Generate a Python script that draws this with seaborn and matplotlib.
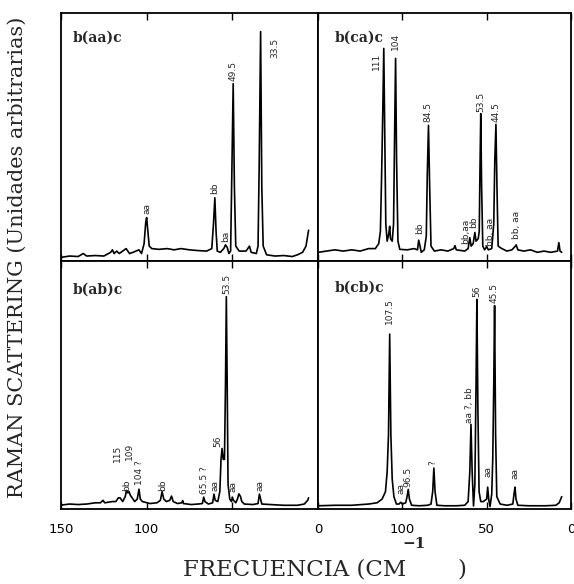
import numpy as np
import pandas as pd
import matplotlib
matplotlib.use("Agg")
import matplotlib.pyplot as plt
import seaborn as sns

# ---------------- data ----------------
# b(aa)c  (top-left)
aa_freq = [149.6, 145, 140, 137, 135, 130, 125, 121, 120, 119, 117.5, 116, 112, 110, 108, 104.5, 103,
           101.5, 100.5, 100, 99.3, 98.5, 97, 93, 88, 84, 80, 75, 70, 65, 62, 61, 60.2, 59.5, 58.8,
           57, 55, 54, 53, 52, 51, 50.3, 49.5, 48.8, 48, 46, 42, 40, 39, 36, 35, 34.3, 33.5, 32.8,
           32, 30, 25, 20, 15, 12, 9, 7, 5.5]
aa_int = [0.015, 0.02, 0.018, 0.03, 0.02, 0.022, 0.02, 0.035, 0.045, 0.03, 0.04, 0.03, 0.05, 0.03, 0.035,
          0.045, 0.03, 0.07, 0.16, 0.175, 0.12, 0.06, 0.05, 0.047, 0.05, 0.045, 0.05, 0.045, 0.042,
          0.04, 0.05, 0.15, 0.255, 0.12, 0.04, 0.035, 0.05, 0.065, 0.055, 0.03, 0.04, 0.35, 0.715,
          0.3, 0.06, 0.04, 0.04, 0.06, 0.035, 0.03, 0.06, 0.4, 0.925, 0.3, 0.06, 0.025, 0.02, 0.022,
          0.018, 0.025, 0.035, 0.06, 0.124]
aa_lab_text = ["aa", "bb", "ba", "49.5", "33.5"]
aa_lab_freq = [100, 60.2, 54, 49.5, 25.5]
aa_lab_y = [0.19, 0.27, 0.078, 0.725, 0.82]

# b(ca)c  (top-right)
ca_freq = [149.8, 145, 140, 135, 130, 125, 120, 116, 114, 113, 112.3, 111.6, 111, 110.4, 109.8, 109,
           108, 107.5, 107, 106, 105.2, 104.6, 104, 103.4, 102.6, 101.5, 97, 93, 91, 90.3, 89.5, 88.8,
           87, 85.8, 85.2, 84.5, 83.8, 83, 81, 77, 73, 69.5, 68.8, 68, 63, 61, 60, 59.2, 58, 57, 56.3,
           55, 54.4, 54, 53.5, 53, 52.3, 51.2, 50, 49, 47, 45.8, 45.2, 44.5, 43.9, 43.2, 41, 38, 35,
           33, 32.5, 31.5, 28, 24, 20, 16, 12, 8, 7.2, 6.5, 5.5]
ca_int = [0.035, 0.04, 0.045, 0.04, 0.045, 0.04, 0.05, 0.05, 0.07, 0.12, 0.34, 0.6, 0.857, 0.5, 0.15,
          0.08, 0.11, 0.14, 0.09, 0.08, 0.15, 0.5, 0.817, 0.4, 0.08, 0.047, 0.045, 0.05, 0.045, 0.084,
          0.06, 0.035, 0.045, 0.1, 0.35, 0.547, 0.3, 0.06, 0.04, 0.045, 0.04, 0.05, 0.062, 0.045, 0.04,
          0.05, 0.094, 0.06, 0.07, 0.115, 0.08, 0.09, 0.12, 0.35, 0.594, 0.3, 0.06, 0.045, 0.058,
          0.045, 0.05, 0.15, 0.4, 0.551, 0.3, 0.06, 0.05, 0.04, 0.045, 0.06, 0.065, 0.045, 0.04,
          0.045, 0.035, 0.04, 0.035, 0.04, 0.074, 0.04, 0.035]
ca_lab_text = ["111", "104", "bb", "84.5", "bb,aa", "bb", "53.5", "bb, aa", "44.5", "bb, aa"]
ca_lab_freq = [115.2, 104, 89.5, 84.6, 62.5, 57.9, 53.5, 48.0, 44.5, 32.2]
ca_lab_y = [0.77, 0.85, 0.109, 0.56, 0.069, 0.134, 0.60, 0.06, 0.56, 0.089]

# b(ab)c  (bottom-left)
ab_freq = [149.6, 145, 140, 135, 130, 127, 125.5, 124.5, 120, 118, 116.5, 115.5, 114, 112.5, 111.8,
           111, 110.3, 109.5, 108.5, 107, 105.5, 104.5, 103.7, 102.5, 98, 94, 92, 91, 90, 88.5, 86.5,
           85.5, 84.5, 82, 79.5, 79, 78.5, 74, 70, 67.5, 66.7, 66, 64, 61.5, 60.7, 60, 58.5, 57.3,
           56.6, 56, 55.3, 54.6, 54, 53.5, 53, 52.5, 51.5, 50.5, 50, 49.3, 48, 47, 46.2, 45.2, 44.5,
           43, 38, 35, 34.2, 33.5, 32.8, 28, 20, 12, 8, 6, 5.5]
ab_int = [0.016, 0.02, 0.018, 0.02, 0.025, 0.025, 0.035, 0.025, 0.03, 0.03, 0.045, 0.045, 0.03, 0.05,
          0.075, 0.065, 0.07, 0.055, 0.045, 0.03, 0.04, 0.08, 0.04, 0.03, 0.022, 0.025, 0.035, 0.07,
          0.04, 0.03, 0.035, 0.052, 0.03, 0.022, 0.025, 0.034, 0.022, 0.018, 0.02, 0.022, 0.048, 0.03,
          0.02, 0.025, 0.06, 0.035, 0.03, 0.07, 0.2, 0.244, 0.2, 0.2, 0.5, 0.856, 0.5, 0.1, 0.04,
          0.03, 0.048, 0.035, 0.025, 0.04, 0.061, 0.05, 0.03, 0.02, 0.018, 0.022, 0.06, 0.04, 0.02,
          0.018, 0.015, 0.015, 0.02, 0.035, 0.045]
ab_lab_text = ["115", "bb", "109", "104 ?", "bb", "65.5 ?", "aa", "56", "53.5", "aa", "aa"]
ab_lab_freq = [117.1, 111.7, 110.1, 104.1, 90.9, 66.5, 60.2, 58.5, 53.3, 49.9, 33.8]
ab_lab_y = [0.19, 0.074, 0.196, 0.095, 0.074, 0.061, 0.074, 0.25, 0.867, 0.07, 0.074]

# b(cb)c  (bottom-right)
cb_freq = [149.8, 140, 130, 120, 115, 112, 110, 109, 108.2, 107.5, 106.8, 106, 105, 103.5, 102, 101,
           100, 98, 97.2, 96.5, 95.8, 94.5, 90, 85, 83, 82, 81.3, 80.6, 79.5, 75, 68, 63, 61, 60,
           59.3, 58.6, 57.8, 57, 56.3, 55.8, 55.2, 54.5, 53.5, 52, 50, 49.4, 48.8, 48, 47, 46.4, 45.8,
           45.3, 44.7, 44, 42, 38, 34.5, 33.8, 33.2, 32.6, 31.5, 25, 15, 9, 7, 5.5]
cb_int = [0.013, 0.015, 0.015, 0.02, 0.025, 0.04, 0.07, 0.15, 0.3, 0.705, 0.3, 0.12, 0.05, 0.02, 0.02,
          0.027, 0.02, 0.025, 0.05, 0.079, 0.04, 0.015, 0.013, 0.015, 0.02, 0.07, 0.165, 0.07, 0.015,
          0.013, 0.013, 0.015, 0.03, 0.15, 0.341, 0.15, 0.012, 0.1, 0.5, 0.845, 0.4, 0.07, 0.03, 0.03,
          0.04, 0.088, 0.04, 0.01, 0.06, 0.2, 0.5, 0.82, 0.3, 0.05, 0.02, 0.015, 0.02, 0.06, 0.088,
          0.04, 0.015, 0.013, 0.013, 0.015, 0.025, 0.05]
cb_lab_text = ["107.5", "aa", "96.5", "?", "aa ?, bb", "56", "aa", "45.5", "aa"]
cb_lab_freq = [107.9, 101, 96.5, 81.8, 59.9, 56, 49.2, 45.5, 33.2]
cb_lab_y = [0.745, 0.061, 0.088, 0.176, 0.345, 0.854, 0.129, 0.83, 0.122]

panel_titles = ["b(aa)c", "b(ca)c", "b(ab)c", "b(cb)c"]
tick_values = [150, 100, 50, 0]

# ---------------- drawing ----------------
sns.set_style("white")
plt.rcParams['font.family'] = ['DejaVu Sans']

fig = plt.figure(figsize=(5.74, 5.84), dpi=100)

L, M, R = 61 / 574, 318 / 574, 571 / 574
row_h = 248 / 584
top_b = 1 - 261 / 584
bot_b = 1 - 509 / 584

panels = [
    (aa_freq, aa_int, aa_lab_text, aa_lab_freq, aa_lab_y, [L, top_b, M - L, row_h], 0.047, 0.90, False, None),
    (ca_freq, ca_int, ca_lab_text, ca_lab_freq, ca_lab_y, [M, top_b, R - M, row_h], 0.067, 0.90, False, None),
    (ab_freq, ab_int, ab_lab_text, ab_lab_freq, ab_lab_y, [L, bot_b, M - L, row_h], 0.047, 0.885, True,
     ["150", "100", "50", "0"]),
    (cb_freq, cb_int, cb_lab_text, cb_lab_freq, cb_lab_y, [M, bot_b, R - M, row_h], 0.067, 0.893, True,
     ["", "100", "50", "0"]),
]

for k, (fr, it, lt, lf, ly, rect, tx, ty, show_lab, ticklabels) in enumerate(panels):
    ax = fig.add_axes(rect)
    df = pd.DataFrame({"freq": fr, "intensity": it})
    sns.lineplot(data=df, x="freq", y="intensity", ax=ax, color="black",
                 linewidth=1.2, estimator=None, sort=False)
    ax.set_xlim(150, 0)
    ax.set_ylim(0, 1)
    ax.set_xticks(tick_values)
    ax.set_yticks([])
    ax.set_xlabel("")
    ax.set_ylabel("")
    ax.tick_params(axis="x", direction="in", top=True, bottom=True, length=5, width=1,
                   labelsize=9.5, pad=10, labelbottom=show_lab, colors="black")
    if show_lab:
        ax.set_xticklabels(ticklabels)
    for s in ax.spines.values():
        s.set_linewidth(1.3)
        s.set_color("black")
    ax.text(tx, ty, panel_titles[k], transform=ax.transAxes, fontsize=10,
            fontweight="bold", family="DejaVu Serif", ha="left", va="center")
    for t, f, y in zip(lt, lf, ly):
        ax.text(f, y, t, rotation=90, ha="center", va="bottom", fontsize=6.5)

fig.text(0.03, 0.56, "RAMAN SCATTERING (Unidades arbitrarias)", rotation=90,
         ha="center", va="center", fontsize=15, family="DejaVu Serif")
fig.text(0.708, 0.024, "FRECUENCIA (CM", ha="right", va="center", fontsize=16.5,
         family="DejaVu Serif")
fig.text(0.805, 0.024, ")", ha="center", va="center", fontsize=16.5, family="DejaVu Serif")
fig.text(0.722, 0.068, "\u22121", ha="center", va="center", fontsize=11,
         family="DejaVu Serif", fontweight="bold")

fig.savefig("out.png", dpi=100)
